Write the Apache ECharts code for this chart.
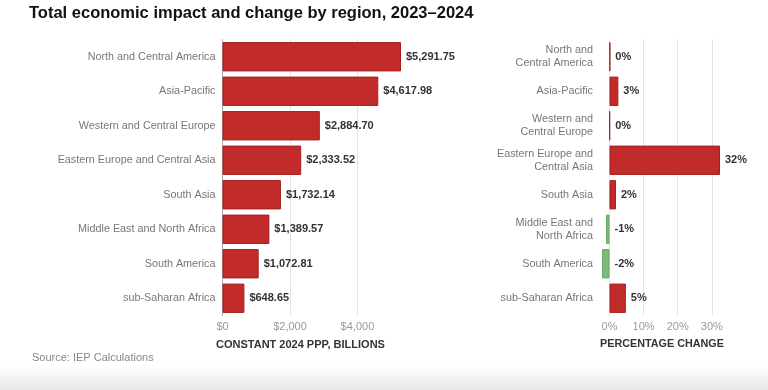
<!DOCTYPE html>
<html><head><meta charset="utf-8">
<script src="https://cdn.jsdelivr.net/npm/echarts@6/dist/echarts.min.js"></script>
<style>html,body{margin:0;padding:0;background:#fff}#c{width:768px;height:390px}</style>
</head><body><div id="c"></div>
<script>
const titleText = 'Total economic impact and change by region, 2023\u20132024';
const regions = ['North and Central America','Asia-Pacific','Western and Central Europe','Eastern Europe and Central Asia','South Asia','Middle East and North Africa','South America','sub-Saharan Africa'];
const regionsWrapped = ['North and\nCentral America','Asia-Pacific','Western and\nCentral Europe','Eastern Europe and\nCentral Asia','South Asia','Middle East and\nNorth Africa','South America','sub-Saharan Africa'];
const impactValues = [5291.75, 4617.98, 2884.70, 2333.52, 1732.14, 1389.57, 1072.81, 648.65];
const changeValues = [0.2, 2.6, 0.1, 32.4, 1.9, -1.0, -2.2, 4.8];
const leftAxisName = 'CONSTANT 2024 PPP, BILLIONS';
const rightAxisName = 'PERCENTAGE CHANGE';
const sourceText = 'Source: IEP Calculations';

const RED = '#c12b29', RED_B = '#a51f20', GREEN = '#7cb97a', GREEN_B = '#6aab68';
const FONT = 'Liberation Sans, Arial, sans-serif';
const chart = echarts.init(document.getElementById('c'));
const fmtMoney = v => '$' + v.toLocaleString('en-US', {minimumFractionDigits: 2, maximumFractionDigits: 2});

chart.setOption({
  animation: false,
  textStyle: {fontFamily: FONT},
  graphic: [{
    type: 'rect', shape: {x: 0, y: 366, width: 768, height: 24}, silent: true,
    style: {fill: new echarts.graphic.LinearGradient(0, 0, 0, 1, [{offset: 0, color: '#ffffff'}, {offset: 1, color: '#e6e6e6'}])}
  }],
  title: [
    {text: titleText, left: 24, top: 0, textStyle: {fontFamily: FONT, fontSize: 16.5, fontWeight: 'bold', color: '#111'}},
    {text: leftAxisName, left: 211, top: 334, textStyle: {fontFamily: FONT, fontSize: 11, fontWeight: 'bold', color: '#333'}},
    {text: rightAxisName, left: 595, top: 334, textStyle: {fontFamily: FONT, fontSize: 10.8, fontWeight: 'bold', color: '#333'}},
    {text: sourceText, left: 27, top: 347, textStyle: {fontFamily: FONT, fontSize: 11, fontWeight: 'normal', color: '#888'}}
  ],
  grid: [
    {left: 222.5, right: 367, top: 39.5, bottom: 74.5},
    {left: 602, right: 48, top: 39.5, bottom: 74.5}
  ],
  xAxis: [
    {type: 'value', gridIndex: 0, min: 0, max: 'dataMax', splitNumber: 3,
     axisLine: {show: false}, axisTick: {show: false},
     axisLabel: {color: '#999', fontSize: 11, margin: 6, showMaxLabel: false, formatter: v => '$' + v.toLocaleString('en-US')},
     splitLine: {show: true, showMaxLine: false, lineStyle: {color: '#e3e3e3', width: 1}}},
    {type: 'value', gridIndex: 1, min: 'dataMin', max: 'dataMax', splitNumber: 4,
     axisLine: {show: false}, axisTick: {show: false},
     axisLabel: {color: '#999', fontSize: 11, margin: 6, showMinLabel: false, showMaxLabel: false, formatter: v => v + '%'},
     splitLine: {show: true, showMinLine: false, showMaxLine: false, lineStyle: {color: '#e3e3e3', width: 1}}}
  ],
  yAxis: [
    {type: 'category', gridIndex: 0, data: regions, inverse: true,
     axisLine: {show: true, lineStyle: {color: '#aaa'}}, axisTick: {show: false},
     axisLabel: {color: '#777', fontSize: 10.8, margin: 7}},
    {type: 'category', gridIndex: 1, data: regionsWrapped, inverse: true,
     axisLine: {show: false}, axisTick: {show: false},
     axisLabel: {color: '#777', fontSize: 10.8, margin: 9, lineHeight: 13}}
  ],
  series: [
    {type: 'bar', xAxisIndex: 0, yAxisIndex: 0, data: impactValues, barCategoryGap: '15%',
     itemStyle: {color: RED, borderColor: RED_B, borderWidth: 1},
     label: {show: true, position: 'right', distance: 5, color: '#333', fontSize: 11, fontWeight: 'bold', formatter: p => fmtMoney(p.value)}},
    {type: 'bar', xAxisIndex: 1, yAxisIndex: 1, barCategoryGap: '15%',
     data: changeValues.map(v => ({value: v, itemStyle: v < 0 ? {color: GREEN, borderColor: GREEN_B} : {color: RED, borderColor: RED_B}})),
     itemStyle: {borderWidth: 1},
     label: {show: true, position: 'right', distance: 5, color: '#333', fontSize: 11, fontWeight: 'bold',
       formatter: p => Math.round(p.value) + '%'}}
  ]
});
</script></body></html>
